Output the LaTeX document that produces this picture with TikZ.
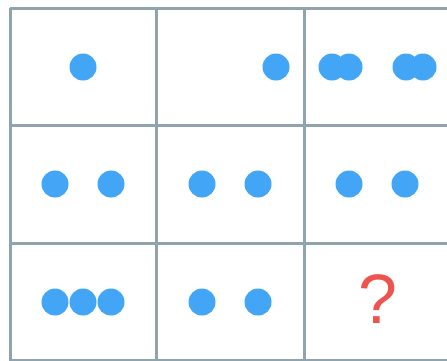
\documentclass[tikz,border=0pt]{standalone}
\usepackage{fontspec}
\setmainfont{Liberation Sans}
\definecolor{gridc}{HTML}{90A4AE}
\definecolor{dotc}{HTML}{42A5F5}
\definecolor{qc}{HTML}{EF5350}
\begin{document}
\begin{tikzpicture}[x=1pt,y=-1pt,
  gridline/.style={draw=gridc,line width=3pt},
  dot/.style={circle,fill=dotc,inner sep=0pt,minimum size=27pt}]
\useasboundingbox (0,0) rectangle (447,360);
\begin{scope}
\clip (0,0) rectangle (447,360);
\foreach \y in {8,125,243,360} \draw[gridline] (10,\y) -- (460,\y);
\foreach \x in {10,156,304} \draw[gridline] (\x,8) -- (\x,370);
\end{scope}
% row 1
\node[dot] (a1) at (83,67) {};
\node[dot] (b1) at (276,67) {};
\node[dot] (c1) at (332,67) {};
\node[dot] (c2) at (349,67) {};
\node[dot] (c3) at (406,67) {};
\node[dot] (c4) at (423,67) {};
% row 2
\node[dot] (d1) at (55,184) {};
\node[dot] (d2) at (111,184) {};
\node[dot] (e1) at (202,184) {};
\node[dot] (e2) at (258,184) {};
\node[dot] (f1) at (349,184) {};
\node[dot] (f2) at (405,184) {};
% row 3
\node[dot] (g1) at (55,302) {};
\node[dot] (g2) at (83,302) {};
\node[dot] (g3) at (111,302) {};
\node[dot] (h1) at (202,302) {};
\node[dot] (h2) at (258,302) {};
\node[anchor=base,inner sep=0pt,text=qc,font=\fontsize{70}{70}\selectfont] (q) at (378,323) {?};
\end{tikzpicture}
\end{document}
